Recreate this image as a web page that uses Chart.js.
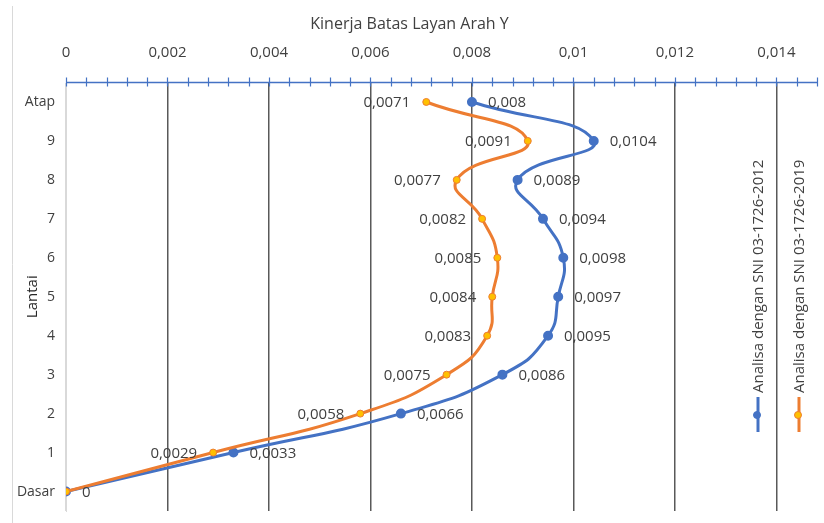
<!DOCTYPE html>
<html>
<head>
<meta charset="utf-8">
<script src="https://cdn.jsdelivr.net/npm/chart.js@4/dist/chart.umd.min.js"></script>
<style>
  html, body { margin: 0; padding: 0; background: #fff; }
  #wrap { width: 824px; height: 523px; position: relative; }
</style>
</head>
<body>
<div id="wrap"><canvas id="c" width="824" height="523"></canvas></div>
<script>
// Floors from ground level (Dasar) up to the roof (Atap)
const floors = ['Dasar', '1', '2', '3', '4', '5', '6', '7', '8', '9', 'Atap'];
// Inter-storey drift ratio, direction Y
const drift2012 = [0, 0.0033, 0.0066, 0.0086, 0.0095, 0.0097, 0.0098, 0.0094, 0.0089, 0.0104, 0.008];
const drift2019 = [0, 0.0029, 0.0058, 0.0075, 0.0083, 0.0084, 0.0085, 0.0082, 0.0077, 0.0091, 0.0071];
const seriesNames = ['Analisa dengan SNI 03-1726-2012', 'Analisa dengan SNI 03-1726-2019'];
const xTickValues = [0, 0.002, 0.004, 0.006, 0.008, 0.01, 0.012, 0.014];
const xTickLabels = ['0', '0,002', '0,004', '0,006', '0,008', '0,01', '0,012', '0,014'];
const chartTitle = 'Kinerja Batas Layan Arah Y';
const yTitle = 'Lantai';

const BLUE = '#4472C4';
const ORANGE = '#ED7D31';
const YELLOW = '#FFC000';
const TEXT = '#404040';
const FONT = '"Open Sans", "Liberation Sans", sans-serif';

const fmt = v => String(v).replace('.', ',');
const toPoints = arr => arr.map((v, i) => ({ x: v, y: i }));

// Value labels beside each point: blue to the right, orange to the left
const valueLabels = {
  id: 'valueLabels',
  afterDatasetsDraw(chart) {
    const ctx = chart.ctx;
    ctx.save();
    ctx.font = '15px ' + FONT;
    ctx.fillStyle = TEXT;
    ctx.textBaseline = 'middle';
    chart.data.datasets.forEach((ds, di) => {
      const meta = chart.getDatasetMeta(di);
      const side = ds.labelSide;
      meta.data.forEach((pt, i) => {
        const v = ds.data[i].x;
        if (side < 0 && v === 0) return;
        ctx.textAlign = side > 0 ? 'left' : 'right';
        ctx.fillText(fmt(v), pt.x + side * 16, pt.y + 1);
      });
    });
    ctx.restore();
  }
};

// Blue value axis along the top with crossing tick marks
const topAxis = {
  id: 'topAxis',
  afterDatasetsDraw(chart) {
    const ctx = chart.ctx;
    const xs = chart.scales.x;
    const y = chart.chartArea.top;
    ctx.save();
    ctx.strokeStyle = BLUE;
    ctx.lineWidth = 1.5;
    ctx.beginPath();
    ctx.moveTo(xs.getPixelForValue(xs.min), y);
    ctx.lineTo(xs.getPixelForValue(xs.max), y);
    ctx.stroke();
    const step = 0.0004;
    const n = Math.round((xs.max - xs.min) / step);
    ctx.beginPath();
    for (let k = 0; k <= n; k++) {
      const px = Math.round(xs.getPixelForValue(xs.min + k * step)) + 0.5;
      ctx.moveTo(px, y - 5);
      ctx.lineTo(px, y + 4);
    }
    ctx.lineWidth = 1.2;
    ctx.stroke();
    ctx.restore();
  }
};

// Vertical legend on the right and the outer frame edge
const sideLegend = {
  id: 'sideLegend',
  afterDraw(chart) {
    const ctx = chart.ctx;
    ctx.save();
    ctx.strokeStyle = '#d9d9d9';
    ctx.lineWidth = 1;
    ctx.beginPath();
    ctx.moveTo(12.5, 6);
    ctx.lineTo(12.5, chart.height);
    ctx.stroke();

    const cols = [758, 799];
    chart.data.datasets.forEach((ds, i) => {
      const x = cols[i];
      ctx.strokeStyle = ds.borderColor;
      ctx.lineWidth = 3;
      ctx.beginPath();
      ctx.moveTo(x, 397);
      ctx.lineTo(x, 432);
      ctx.stroke();
      ctx.beginPath();
      ctx.arc(x - 1, 415, 3.5, 0, Math.PI * 2);
      ctx.fillStyle = ds.pointBackgroundColor;
      ctx.fill();
      ctx.lineWidth = 1;
      ctx.strokeStyle = ds.pointBorderColor;
      ctx.stroke();

      ctx.save();
      ctx.translate(x + 1, 393);
      ctx.rotate(-Math.PI / 2);
      ctx.font = '15px ' + FONT;
      ctx.fillStyle = TEXT;
      ctx.textAlign = 'left';
      ctx.textBaseline = 'middle';
      ctx.fillText(ds.label, 0, 0);
      ctx.restore();
    });
    ctx.restore();
  }
};

new Chart(document.getElementById('c'), {
  type: 'scatter',
  data: {
    datasets: [
      {
        label: seriesNames[0],
        data: toPoints(drift2012),
        showLine: true,
        borderColor: BLUE,
        backgroundColor: BLUE,
        pointBackgroundColor: BLUE,
        pointBorderColor: BLUE,
        borderWidth: 3,
        pointRadius: 3.5,
        tension: 0.5,
        labelSide: 1,
        order: 2
      },
      {
        label: seriesNames[1],
        data: toPoints(drift2019),
        showLine: true,
        borderColor: ORANGE,
        backgroundColor: ORANGE,
        pointBackgroundColor: YELLOW,
        pointBorderColor: ORANGE,
        pointBorderWidth: 1,
        borderWidth: 3,
        pointRadius: 3.5,
        tension: 0.5,
        labelSide: -1,
        order: 1
      }
    ]
  },
  options: {
    responsive: false,
    animation: false,
    devicePixelRatio: 1,
    layout: { padding: { top: 0, right: 5, bottom: 12, left: 0 } },
    plugins: {
      legend: { display: false },
      tooltip: { enabled: false },
      title: {
        display: true,
        text: chartTitle,
        color: TEXT,
        font: { family: FONT, size: 16, weight: 'normal' },
        padding: { top: 15, bottom: 0 }
      }
    },
    scales: {
      x: {
        type: 'linear',
        position: 'top',
        min: 0,
        max: 0.0148,
        afterBuildTicks(scale) { scale.ticks = xTickValues.map(v => ({ value: v })); },
        afterFit(scale) {
          scale.height = 48.3;
          scale.paddingLeft = 0;
          scale.paddingRight = 0;
        },
        ticks: {
          color: TEXT,
          font: { family: FONT, size: 15 },
          padding: 20.5,
          maxRotation: 0,
          autoSkip: false,
          callback: (v, i) => xTickLabels[i]
        },
        grid: {
          drawTicks: false,
          color: c => (c.tick && c.tick.value === 0 ? '#d9d9d9' : '#595959'),
          lineWidth: 1.5
        },
        border: { display: false }
      },
      y: {
        type: 'linear',
        min: -0.5,
        max: 10.5,
        afterBuildTicks(scale) { scale.ticks = floors.map((f, i) => ({ value: i })); },
        afterFit(scale) {
          scale.width = 66;
          scale.paddingTop = 0;
          scale.paddingBottom = 0;
        },
        ticks: {
          color: TEXT,
          font: { family: FONT, size: 14 },
          padding: 11,
          autoSkip: false,
          callback: v => floors[v]
        },
        grid: { display: false, drawTicks: false },
        border: { display: true, color: '#d9d9d9', width: 1 },
        title: {
          display: true,
          text: yTitle,
          color: '#262626',
          font: { family: FONT, size: 15 },
          padding: { top: 24, bottom: 0 }
        }
      }
    }
  },
  plugins: [valueLabels, topAxis, sideLegend]
});
</script>
</body>
</html>
